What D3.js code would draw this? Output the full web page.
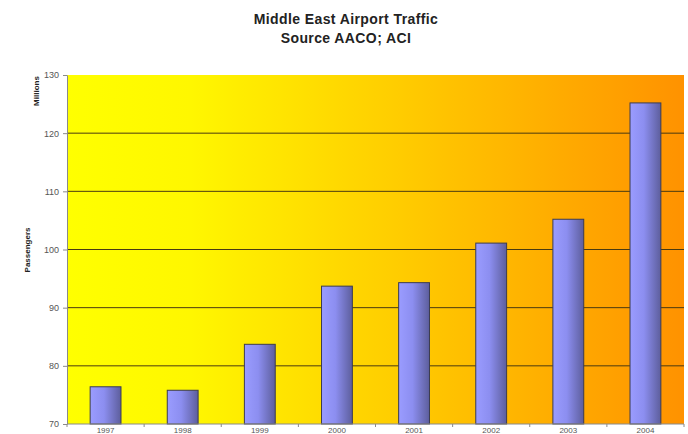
<!DOCTYPE html>
<html>
<head>
<meta charset="utf-8">
<script src="https://cdn.jsdelivr.net/npm/d3@7"></script>
<style>
  body { margin: 0; background: #fff; }
  svg { display: block; font-family: "Liberation Sans", Arial, sans-serif; }
  .axis path, .axis line { stroke: #8a8a8a; }
  .axis text { fill: #555; font-size: 9px; }
</style>
</head>
<body>
<script>
const years = ["1997", "1998", "1999", "2000", "2001", "2002", "2003", "2004"];
const passengers = [76.4, 75.8, 83.7, 93.7, 94.3, 101.1, 105.2, 125.2];
const yTicks = [70, 80, 90, 100, 110, 120, 130];

const box = { upper: 75, lower: 10, left: 67, right: 4 };
const W = 688, H = 434;
const width = W - box.left - box.right;
const height = 424 - box.upper;

const svg = d3.select("body").append("svg")
  .attr("width", W)
  .attr("height", H);

const defs = svg.append("defs");
const bg = defs.append("linearGradient").attr("id", "bg");
bg.append("stop").attr("offset", "0%").attr("stop-color", "#ffff00");
bg.append("stop").attr("offset", "20%").attr("stop-color", "#fff700");
bg.append("stop").attr("offset", "100%").attr("stop-color", "#ff9200");

const barFill = defs.append("linearGradient").attr("id", "barFill");
barFill.append("stop").attr("offset", "0%").attr("stop-color", "#9a9cff");
barFill.append("stop").attr("offset", "45%").attr("stop-color", "#8c8ef0");
barFill.append("stop").attr("offset", "100%").attr("stop-color", "#5d5e9c");

const g = svg.append("g")
  .attr("transform", `translate(${box.left},${box.upper})`);

const x = d3.scaleBand().domain(years).range([0, width]).paddingInner(0.6).paddingOuter(0.3);
const xTicks = d3.scaleBand().domain(years).range([0, width]);
const y = d3.scaleLinear().domain([70, 130]).range([height, 0]);

g.append("rect")
  .attr("width", width)
  .attr("height", height)
  .attr("fill", "url(#bg)");

g.selectAll(".grid")
  .data(yTicks.slice(1, -1))
  .enter().append("line")
  .attr("class", "grid")
  .attr("x1", 0).attr("x2", width)
  .attr("y1", d => y(d)).attr("y2", d => y(d))
  .attr("stroke", "#4a3a10")
  .attr("stroke-width", 1);

g.selectAll(".bar")
  .data(passengers)
  .enter().append("rect")
  .attr("class", "bar")
  .attr("x", (d, i) => x(years[i]))
  .attr("y", d => y(d))
  .attr("width", x.bandwidth())
  .attr("height", d => height - y(d))
  .attr("fill", "url(#barFill)")
  .attr("stroke", "#3c3c50")
  .attr("stroke-width", 1);

g.append("g")
  .attr("class", "axis")
  .call(d3.axisLeft(y).tickValues(yTicks).tickSize(4).tickSizeOuter(0).tickPadding(4));

const xAxis = g.append("g")
  .attr("class", "axis")
  .attr("transform", `translate(0,${height})`);
xAxis.append("line").attr("x1", 0).attr("x2", width);
xAxis.selectAll(".tk")
  .data(years.concat(["end"]))
  .enter().append("line")
  .attr("x1", (d, i) => i * xTicks.bandwidth())
  .attr("x2", (d, i) => i * xTicks.bandwidth())
  .attr("y1", 0).attr("y2", 3);
xAxis.selectAll("text")
  .data(years)
  .enter().append("text")
  .attr("x", d => x(d) + x.bandwidth() / 2)
  .attr("y", 9)
  .attr("text-anchor", "middle")
  .style("font-size", "8px")
  .text(d => d);

svg.append("text")
  .attr("x", 346).attr("y", 24)
  .attr("text-anchor", "middle")
  .style("font-size", "14px").style("font-weight", "bold").style("fill", "#222")
  .style("letter-spacing", "0.4px")
  .text("Middle East Airport Traffic");
svg.append("text")
  .attr("x", 346).attr("y", 43)
  .attr("text-anchor", "middle")
  .style("font-size", "14px").style("font-weight", "bold").style("fill", "#222")
  .style("letter-spacing", "0.4px")
  .text("Source AACO; ACI");

svg.append("text")
  .attr("transform", "translate(39,91) rotate(-90)")
  .attr("text-anchor", "middle")
  .style("font-size", "8px").style("font-weight", "bold").style("fill", "#222")
  .text("Millions");
svg.append("text")
  .attr("transform", "translate(30,250) rotate(-90)")
  .attr("text-anchor", "middle")
  .style("font-size", "8px").style("font-weight", "bold").style("fill", "#222")
  .text("Passengers");
</script>
</body>
</html>
